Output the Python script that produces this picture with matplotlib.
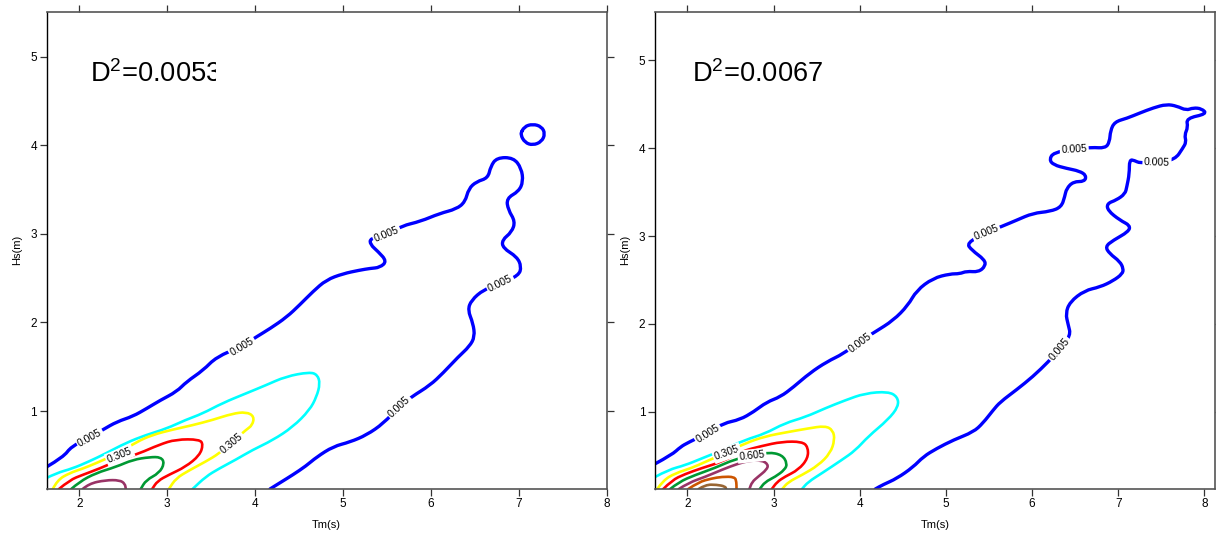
import matplotlib
matplotlib.use('Agg')
import matplotlib.pyplot as plt
from matplotlib.path import Path
from matplotlib.patches import PathPatch
from matplotlib.transforms import Bbox, TransformedBbox

plt.rcParams['font.family'] = ['Liberation Sans', 'DejaVu Sans']
plt.rcParams['mathtext.fontset'] = 'custom'
plt.rcParams['mathtext.rm'] = 'Liberation Sans'
plt.rcParams['mathtext.it'] = 'Liberation Sans'

# contour levels and their colours
levels = [0.005, 0.155, 0.305, 0.455, 0.605, 0.755, 0.905, 1.055]
level_colors = ['#0000ff', '#00ffff', '#ffff00', '#ff0000',
                '#009933', '#993366', '#cc5500', '#996633']

# ---- left panel: contour lines, (Tm, Hs) ----
left_0005_a = [(1.63, 0.37), (1.82, 0.48), (1.91, 0.60), (2.12, 0.70), (2.27, 0.79),
               (2.43, 0.88), (2.61, 0.94), (2.77, 1.03), (2.92, 1.12), (3.11, 1.22),
               (3.22, 1.33), (3.41, 1.46), (3.56, 1.61), (3.85, 1.73), (4.02, 1.84),
               (4.17, 1.93), (4.36, 2.06), (4.51, 2.20), (4.66, 2.35), (4.81, 2.48),
               (5.00, 2.55), (5.19, 2.59), (5.31, 2.61), (5.42, 2.62), (5.50, 2.69),
               (5.40, 2.80), (5.31, 2.88), (5.31, 2.95), (5.50, 2.99), (5.67, 3.09),
               (5.88, 3.14), (6.10, 3.23), (6.29, 3.28), (6.39, 3.36), (6.43, 3.51),
               (6.52, 3.59), (6.65, 3.63), (6.68, 3.76), (6.75, 3.86), (6.94, 3.86),
               (7.03, 3.74), (7.05, 3.59), (7.00, 3.48), (6.86, 3.40), (6.88, 3.27),
               (6.96, 3.14), (6.92, 3.02), (6.81, 2.93), (6.82, 2.84), (6.98, 2.74),
               (7.03, 2.63), (7.00, 2.53), (6.79, 2.44), (6.60, 2.37), (6.46, 2.25),
               (6.42, 2.14), (6.48, 1.99), (6.50, 1.84), (6.44, 1.73), (6.31, 1.61),
               (6.14, 1.43), (5.99, 1.29), (5.78, 1.16), (5.64, 1.05), (5.46, 0.86),
               (5.27, 0.73), (5.08, 0.65), (4.89, 0.60), (4.70, 0.48), (4.58, 0.38),
               (4.43, 0.28), (4.30, 0.20), (4.17, 0.12)]
left_0005_b = [(7.04, 4.165), (7.06, 4.21), (7.16, 4.24), (7.26, 4.21), (7.30, 4.13),
               (7.26, 4.04), (7.16, 4.00), (7.07, 4.03), (7.02, 4.12), (7.04, 4.165)]
left_0155 = [(1.62, 0.24), (1.74, 0.30), (1.92, 0.35), (2.11, 0.43), (2.30, 0.52),
             (2.53, 0.64), (2.76, 0.73), (2.99, 0.80), (3.21, 0.90), (3.40, 0.97),
             (3.63, 1.09), (3.90, 1.20), (4.12, 1.29), (4.35, 1.39), (4.62, 1.44),
             (4.71, 1.41), (4.74, 1.31), (4.70, 1.16), (4.62, 1.01), (4.43, 0.82),
             (4.20, 0.67), (3.97, 0.56), (3.78, 0.45), (3.59, 0.35), (3.44, 0.26),
             (3.29, 0.12)]
left_0305 = [(1.70, 0.12), (1.75, 0.22), (1.89, 0.30), (2.04, 0.35), (2.19, 0.41),
             (2.46, 0.53), (2.65, 0.65), (2.83, 0.73), (3.06, 0.79), (3.29, 0.84),
             (3.52, 0.90), (3.74, 0.97), (3.90, 0.99), (3.99, 0.94), (3.97, 0.84),
             (3.90, 0.79), (3.73, 0.64), (3.59, 0.52), (3.44, 0.43), (3.25, 0.33),
             (3.10, 0.24), (3.02, 0.12)]
left_0455 = [(1.77, 0.12), (1.89, 0.22), (2.04, 0.28), (2.23, 0.35), (2.46, 0.45),
             (2.68, 0.52), (2.91, 0.62), (3.10, 0.68), (3.37, 0.68), (3.41, 0.62),
             (3.37, 0.50), (3.21, 0.37), (3.02, 0.28), (2.89, 0.21), (2.83, 0.12)]
left_0605 = [(1.91, 0.12), (2.00, 0.20), (2.19, 0.30), (2.42, 0.37), (2.61, 0.45),
             (2.80, 0.48), (2.93, 0.48), (2.97, 0.41), (2.91, 0.30), (2.76, 0.22),
             (2.70, 0.12)]
left_0755 = [(2.04, 0.12), (2.11, 0.18), (2.30, 0.22), (2.46, 0.22), (2.52, 0.18),
             (2.53, 0.12)]

# ---- right panel ----
right_0005_a = [(1.63, 0.41), (1.82, 0.51), (1.92, 0.60), (2.01, 0.65), (2.24, 0.76),
                (2.42, 0.87), (2.61, 0.91), (2.77, 1.00), (2.92, 1.11), (3.08, 1.17),
                (3.23, 1.28), (3.42, 1.44), (3.62, 1.57), (3.81, 1.66), (4.00, 1.80),
                (4.18, 1.91), (4.39, 2.04), (4.56, 2.21), (4.66, 2.38), (4.85, 2.52),
                (5.05, 2.57), (5.16, 2.57), (5.24, 2.60), (5.38, 2.59), (5.46, 2.66),
                (5.45, 2.73), (5.30, 2.84), (5.24, 2.92), (5.47, 3.04), (5.65, 3.11),
                (5.82, 3.18), (6.01, 3.26), (6.21, 3.28), (6.34, 3.33), (6.38, 3.45),
                (6.40, 3.54), (6.48, 3.62), (6.61, 3.62), (6.63, 3.69), (6.55, 3.74),
                (6.40, 3.77), (6.25, 3.81), (6.20, 3.87), (6.25, 3.95), (6.49, 3.99),
                (6.69, 4.01), (6.85, 4.00), (6.90, 4.07), (6.91, 4.20), (6.96, 4.30),
                (7.10, 4.34), (7.25, 4.40), (7.41, 4.46), (7.56, 4.50), (7.68, 4.48),
                (7.79, 4.43), (7.87, 4.46), (7.97, 4.45), (8.03, 4.39), (7.79, 4.34),
                (7.81, 4.24), (7.77, 4.15), (7.79, 4.07), (7.75, 4.00), (7.66, 3.87),
                (7.45, 3.84), (7.25, 3.83), (7.19, 3.86), (7.13, 3.87), (7.13, 3.71),
                (7.10, 3.56), (7.08, 3.48), (6.98, 3.41), (6.87, 3.37), (6.88, 3.29),
                (7.02, 3.18), (7.14, 3.12), (7.12, 3.05), (6.94, 2.95), (6.85, 2.88),
                (6.90, 2.80), (7.02, 2.71), (7.06, 2.63), (7.05, 2.57), (6.94, 2.49),
                (6.79, 2.42), (6.61, 2.38), (6.44, 2.25), (6.39, 2.12), (6.42, 1.99),
                (6.45, 1.87), (6.32, 1.71), (6.19, 1.57), (6.01, 1.40), (5.82, 1.25),
                (5.63, 1.11), (5.55, 1.02), (5.43, 0.87), (5.32, 0.77), (5.09, 0.68),
                (4.89, 0.58), (4.74, 0.49), (4.62, 0.37), (4.43, 0.24), (4.27, 0.17),
                (4.18, 0.12)]
right_0155 = [(1.63, 0.26), (1.78, 0.34), (1.97, 0.39), (2.17, 0.47), (2.40, 0.56),
              (2.67, 0.68), (2.90, 0.75), (3.13, 0.87), (3.37, 0.94), (3.60, 1.04),
              (3.83, 1.13), (4.06, 1.21), (4.33, 1.23), (4.44, 1.17), (4.45, 1.06),
              (4.33, 0.91), (4.10, 0.72), (3.95, 0.56), (3.79, 0.45), (3.56, 0.30),
              (3.40, 0.20), (3.33, 0.12)]
right_0305 = [(1.65, 0.12), (1.72, 0.22), (1.86, 0.30), (2.05, 0.36), (2.21, 0.43),
              (2.46, 0.54), (2.67, 0.64), (2.90, 0.72), (3.17, 0.77), (3.40, 0.81),
              (3.60, 0.84), (3.69, 0.79), (3.71, 0.68), (3.66, 0.53), (3.52, 0.39),
              (3.33, 0.28), (3.17, 0.20), (3.10, 0.12)]
right_0455 = [(1.72, 0.12), (1.82, 0.22), (1.97, 0.29), (2.17, 0.36), (2.40, 0.43),
              (2.63, 0.55), (2.86, 0.61), (3.10, 0.66), (3.33, 0.66), (3.40, 0.60),
              (3.40, 0.47), (3.29, 0.34), (3.13, 0.26), (3.04, 0.20), (2.98, 0.12)]
right_0605 = [(1.80, 0.12), (1.90, 0.20), (2.09, 0.28), (2.32, 0.36), (2.55, 0.46),
              (2.75, 0.50), (2.94, 0.54), (3.10, 0.51), (3.16, 0.41), (3.13, 0.34),
              (3.02, 0.26), (2.90, 0.20), (2.84, 0.12)]
right_0755 = [(1.90, 0.12), (2.01, 0.19), (2.21, 0.26), (2.40, 0.34), (2.59, 0.41),
              (2.71, 0.44), (2.86, 0.45), (2.94, 0.40), (2.92, 0.34), (2.82, 0.26),
              (2.75, 0.20), (2.72, 0.12)]
right_0905 = [(2.01, 0.12), (2.13, 0.20), (2.28, 0.24), (2.40, 0.26), (2.55, 0.26),
              (2.57, 0.20), (2.57, 0.12)]
right_1055 = [(2.13, 0.12), (2.21, 0.17), (2.34, 0.17), (2.44, 0.15), (2.45, 0.12)]

left_lines = [(left_0005_a, 0), (left_0005_b, 0), (left_0155, 1), (left_0305, 2),
              (left_0455, 3), (left_0605, 4), (left_0755, 5)]
right_lines = [(right_0005_a, 0), (right_0155, 1), (right_0305, 2), (right_0455, 3),
               (right_0605, 4), (right_0755, 5), (right_0905, 6), (right_1055, 7)]

# inline labels: (Tm, Hs, level index, rotation)
left_labels = [(2.12, 0.70, 0, 29), (3.85, 1.73, 0, 31), (5.50, 2.99, 0, 22),
               (6.79, 2.44, 0, 26), (5.64, 1.05, 0, 43),
               (2.46, 0.50, 2, 22), (3.73, 0.64, 2, 40)]
right_labels = [(2.24, 0.75, 0, 32), (4.00, 1.79, 0, 37), (5.47, 3.04, 0, 22),
                (6.49, 3.99, 0, 3), (7.45, 3.84, 0, -2), (6.32, 1.71, 0, 50),
                (2.46, 0.53, 2, 20), (2.75, 0.50, 4, 6)]

d2_values = ['0.0053', '0.0067']
d2_pos = [(2.12, 4.80), (2.05, 4.84)]
xlims = [(1.63, 8.0), (1.625, 8.124)]
ylims = [(0.123, 5.504), (0.124, 5.55)]


def smooth_path(pts):
    # quadratic bezier through the midpoints, the read points act as controls
    verts = [pts[0]]
    codes = [Path.MOVETO]
    for j in range(1, len(pts) - 1):
        mid = ((pts[j][0] + pts[j + 1][0]) / 2, (pts[j][1] + pts[j + 1][1]) / 2)
        verts += [pts[j], mid]
        codes += [Path.CURVE3, Path.CURVE3]
    verts.append(pts[-1])
    codes.append(Path.LINETO)
    return Path(verts, codes)


fig = plt.figure(figsize=(12.16, 5.36), dpi=100)
ax_rects = [[0.0384, 0.0882, 0.4605, 0.8894], [0.5387, 0.0882, 0.4605, 0.8894]]

panels = [(left_lines, left_labels), (right_lines, right_labels)]
for i, (lines, labels) in enumerate(panels):
    ax = fig.add_axes(ax_rects[i])
    for pts, k in lines:
        lw = 2.4 if k == 0 else 1.9
        ax.add_patch(PathPatch(smooth_path(pts), fill=False, ec=level_colors[k],
                               lw=lw, joinstyle='round', capstyle='round', zorder=2))
    for x, y, k, rot in labels:
        ax.text(x, y, f'{levels[k]:.3f}', fontsize=7.5, rotation=rot,
                rotation_mode='anchor', ha='center', va='center', zorder=4,
                bbox=dict(boxstyle='square,pad=0.15', fc='white', ec='none'))

    t = ax.text(d2_pos[i][0], d2_pos[i][1], 'D$^{2}$=' + d2_values[i],
                fontsize=19.6, ha='left', va='center', zorder=5)
    if i == 0:
        # the first label is cut off at its right edge in the original
        clip = TransformedBbox(Bbox([[0, 0], [0.303, 1]]), ax.transAxes)
        t.set_clip_box(clip)
        t.set_clip_on(True)

    ax.set_xlim(*xlims[i])
    ax.set_ylim(*ylims[i])
    ax.set_xticks([2, 3, 4, 5, 6, 7, 8])
    ax.set_yticks([1, 2, 3, 4, 5])
    ax.tick_params(direction='out', length=5, width=0.9, color='#333333',
                   labelsize=8.5, pad=2, top=True, right=True)
    for side in ['top', 'right', 'bottom']:
        ax.spines[side].set_color('#555555')
        ax.spines[side].set_linewidth(1.2)
    ax.spines['left'].set_color('black')
    ax.spines['left'].set_linewidth(1.0)
    ax.set_xlabel('Tm(s)', fontsize=8, labelpad=7)
    ax.set_ylabel('Hs(m)', fontsize=8, labelpad=6)

fig.savefig('out.png', dpi=100)
